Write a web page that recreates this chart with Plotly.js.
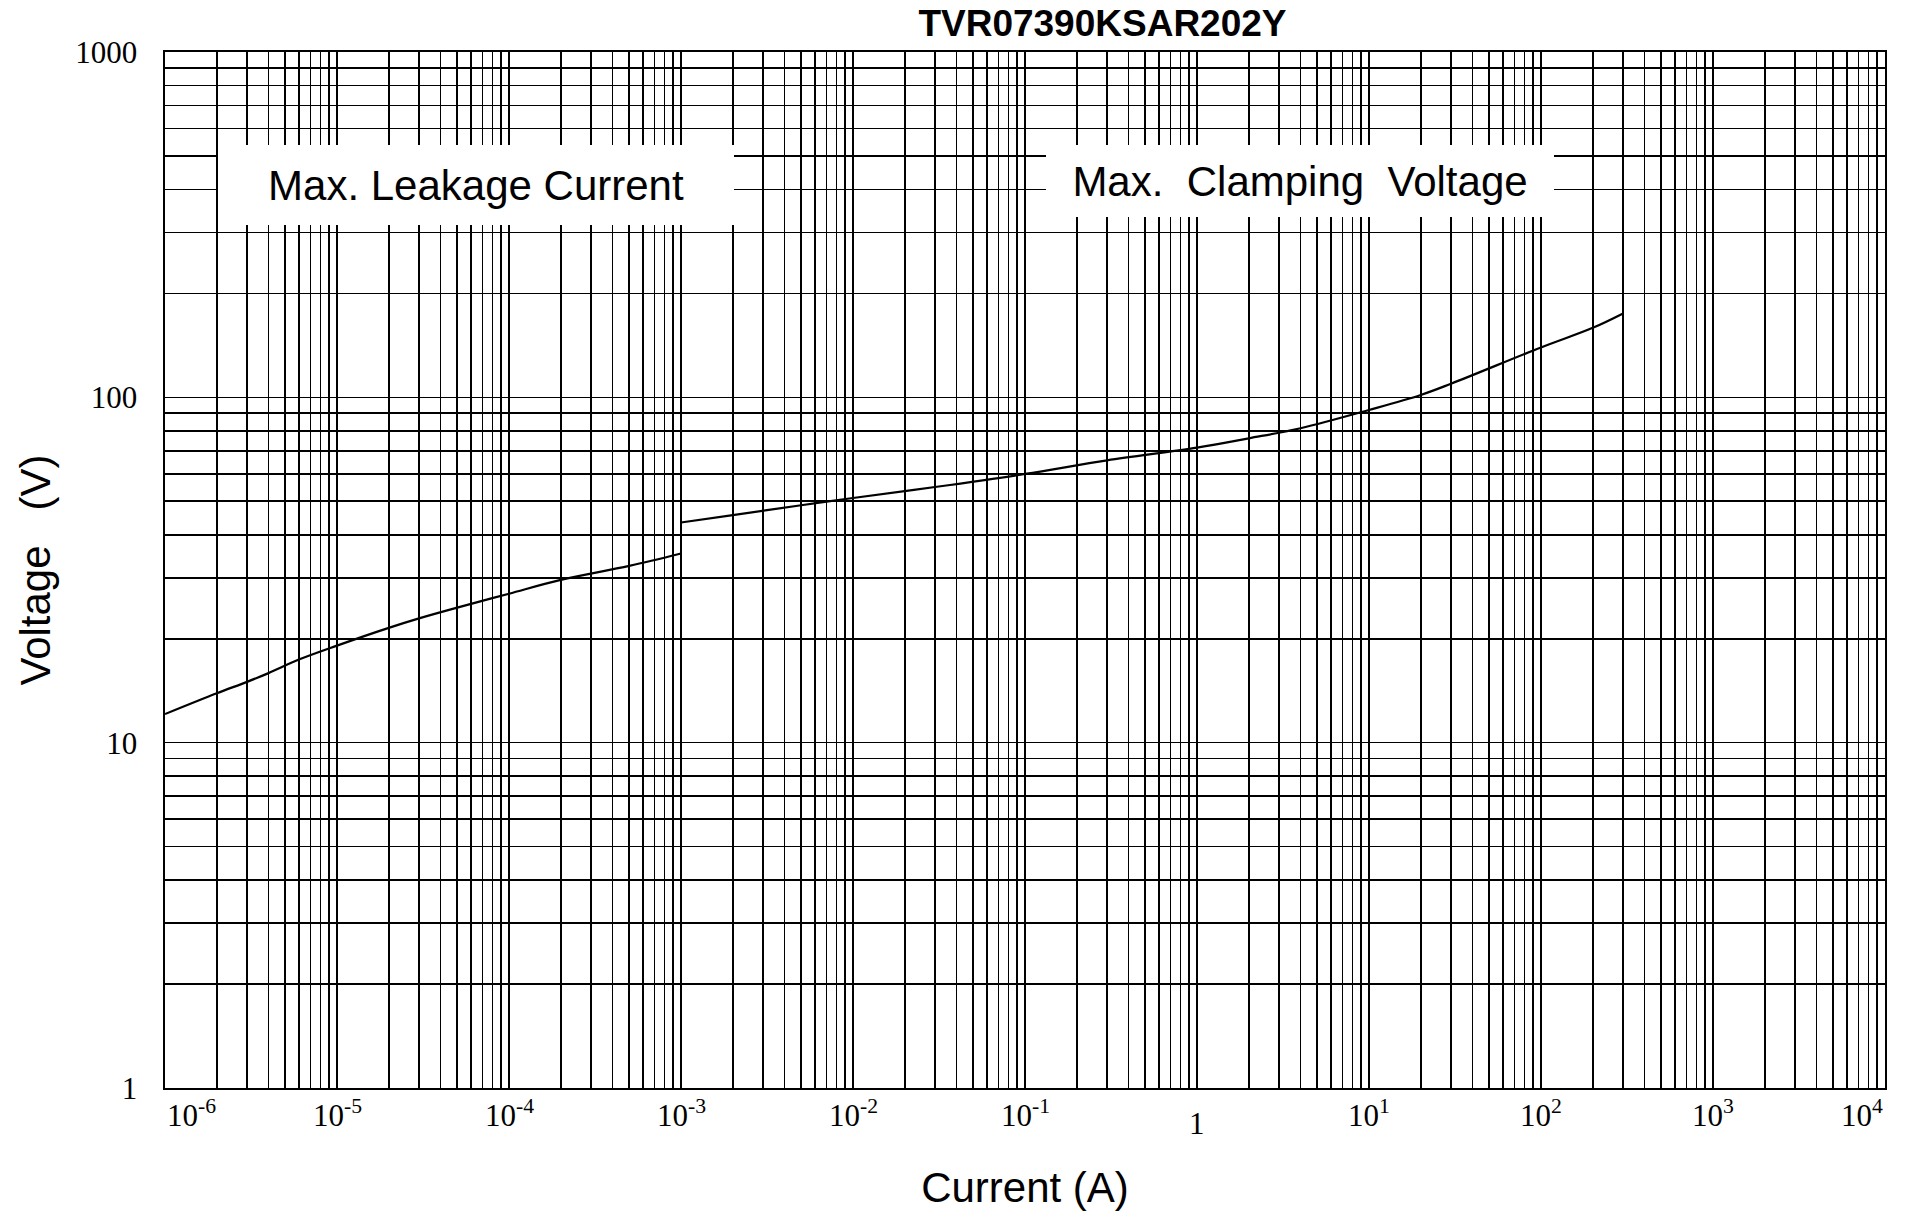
<!DOCTYPE html>
<html>
<head>
<meta charset="utf-8">
<script src="https://cdn.plot.ly/plotly-3.0.1.min.js"></script>
<style>html,body{margin:0;padding:0;background:#fff;}#chart{width:1910px;height:1212px;}</style>
</head>
<body>
<div id="chart"></div>
<script>
// ---- data ----
const leakCurrent = [1e-6, 2e-6, 3e-6, 4e-6, 6e-6, 1e-5, 2e-5, 3e-5, 5e-5, 1e-4, 2e-4, 5e-4, 1e-3];
const leakVoltage = [12.1, 13.9, 15.0, 15.9, 17.4, 19.1, 21.5, 22.9, 24.6, 27.0, 29.6, 32.5, 35.3];

const clampCurrent = [1e-3, 2e-3, 5e-3, 1e-2, 3e-2, 1e-1, 3e-1, 1, 2, 4, 10, 20, 30, 100, 200, 300];
const clampVoltage = [43.4, 45.6, 48.7, 51.1, 55.0, 60.0, 65.7, 71.5, 76.1, 81.4, 91.9, 101.6, 109.5, 139.5, 159.0, 175];

const xTickValues = [1e-6, 1e-5, 1e-4, 1e-3, 1e-2, 1e-1, 1, 1e1, 1e2, 1e3, 1e4];
const xTickLabels = ['10<sup>-6</sup>', '10<sup>-5</sup>', '10<sup>-4</sup>', '10<sup>-3</sup>', '10<sup>-2</sup>',
                     '10<sup>-1</sup>', '1', '10<sup>1</sup>', '10<sup>2</sup>', '10<sup>3</sup>', '10<sup>4</sup>'];
const yTickValues = [1, 10, 100, 1000];
const yTickLabels = ['1', '10', '100', '1000'];

const chartTitle = 'TVR07390KSAR202Y';
const xTitle = 'Current (A)';
const yTitle = 'Voltage\u00a0\u00a0\u00a0(V)';
const noteLeak = 'Max. Leakage Current';
const noteClamp = 'Max.\u00a0\u00a0Clamping\u00a0\u00a0Voltage';

// ---- minor grid positions: every 2..9 multiple within the decades ----
function logMinor(lo, hi) {
  const v = [];
  for (let e = lo; e < hi; e++) for (let m = 2; m < 10; m++) v.push(m * Math.pow(10, e));
  return v;
}
const xMinor = logMinor(-6, 4);
const yMinor = logMinor(0, 3);

const sans = 'Liberation Sans, Arial, sans-serif';
const serif = 'Liberation Serif, Times New Roman, serif';

const lineStyle = {color: '#000', width: 2.2, shape: 'spline', smoothing: 1};
const traces = [
  {x: leakCurrent, y: leakVoltage, type: 'scatter', mode: 'lines', name: noteLeak, line: lineStyle, hoverinfo: 'x+y'},
  {x: clampCurrent, y: clampVoltage, type: 'scatter', mode: 'lines', name: noteClamp, line: lineStyle, hoverinfo: 'x+y'}
];

const annotations = [];
xTickValues.forEach((v, i) => {
  const last = xTickValues.length - 1;
  const hasSup = xTickLabels[i].indexOf('<sup>') >= 0;
  annotations.push({
    x: Math.log10(v), xref: 'x', y: 0, yref: 'paper',
    xanchor: i === 0 ? 'left' : (i === last ? 'right' : 'center'),
    yanchor: 'top', yshift: hasSup ? -4 : -16,
    text: xTickLabels[i], showarrow: false,
    font: {family: serif, size: 31, color: '#000'}
  });
});
annotations.push({
  x: 0.18067, y: 0.87162, xref: 'paper', yref: 'paper', xanchor: 'center', yanchor: 'middle',
  text: noteLeak, showarrow: false, bgcolor: '#fff', borderwidth: 0, borderpad: 0,
  width: 516, height: 80, font: {family: sans, size: 42, color: '#000'}
});
annotations.push({
  x: 0.65988, y: 0.87548, xref: 'paper', yref: 'paper', xanchor: 'center', yanchor: 'middle',
  text: noteClamp, showarrow: false, bgcolor: '#fff', borderwidth: 0, borderpad: 0,
  width: 508, height: 72, font: {family: sans, size: 42, color: '#000'}
});

const gridStyle = {gridcolor: '#000', gridwidth: 1.6};

const layout = {
  width: 1910, height: 1212,
  margin: {l: 165, r: 25, t: 52, b: 124, pad: 0},
  paper_bgcolor: '#fff', plot_bgcolor: '#fff',
  showlegend: false,
  title: {
    text: chartTitle, x: 0.5772, xref: 'container', xanchor: 'center',
    y: 0.9808, yref: 'container', yanchor: 'middle',
    font: {family: sans, size: 37, color: '#000', weight: 700}
  },
  xaxis: Object.assign({
    type: 'log', range: [-6, 4], autorange: false,
    tickmode: 'array', tickvals: xTickValues, showticklabels: false, ticks: '',
    showgrid: true,
    minor: Object.assign({tickmode: 'array', tickvals: xMinor, showgrid: true, ticks: ''}, gridStyle),
    showline: true, mirror: true, linecolor: '#000', linewidth: 1.6, zeroline: false,
    title: {text: xTitle, standoff: 84, font: {family: sans, size: 42, color: '#000'}},
    automargin: false
  }, gridStyle),
  yaxis: Object.assign({
    type: 'log', range: [0, 3], autorange: false,
    tickmode: 'array', tickvals: yTickValues, ticktext: yTickLabels, ticks: '',
    ticklabelstandoff: 20,
    tickfont: {family: serif, size: 31, color: '#000'},
    showgrid: true,
    minor: Object.assign({tickmode: 'array', tickvals: yMinor, showgrid: true, ticks: ''}, gridStyle),
    showline: true, mirror: true, linecolor: '#000', linewidth: 1.6, zeroline: false,
    title: {text: yTitle, standoff: 11, font: {family: sans, size: 42, color: '#000'}},
    automargin: false
  }, gridStyle),
  annotations: annotations
};

Plotly.newPlot('chart', traces, layout, {staticPlot: true, displayModeBar: false});
</script>
</body>
</html>
